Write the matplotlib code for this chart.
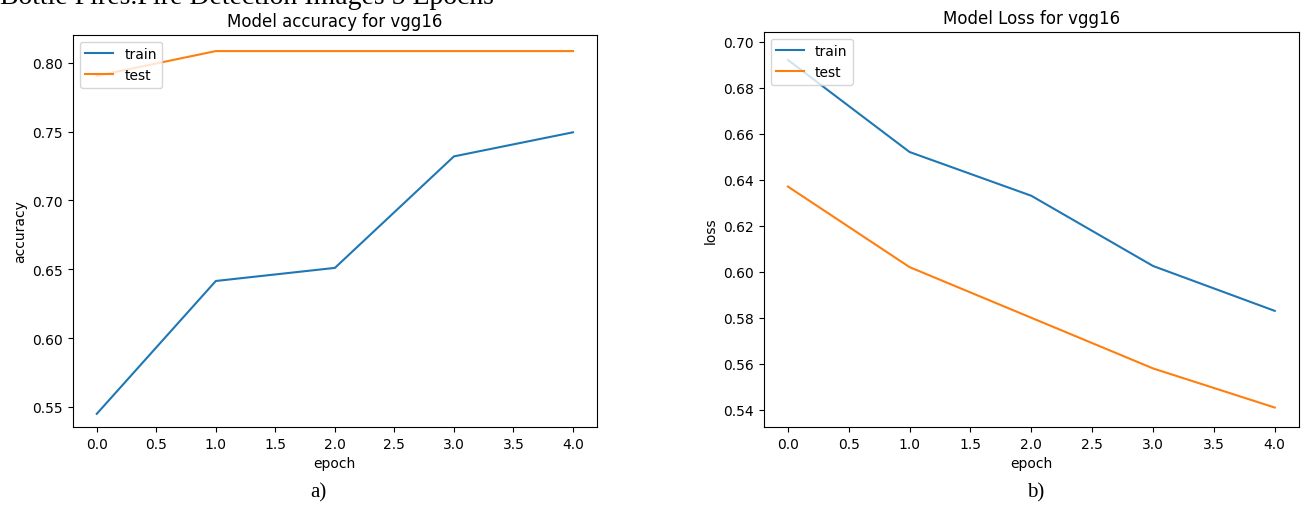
import numpy as np
import matplotlib.pyplot as plt

# data
epochs = [0, 1, 2, 3, 4]
acc_train = [0.545, 0.6415, 0.651, 0.732, 0.7495]
acc_test = [0.7905, 0.8085, 0.8085, 0.8085, 0.8085]
loss_train = [0.692, 0.652, 0.633, 0.6025, 0.583]
loss_test = [0.637, 0.602, 0.580, 0.558, 0.541]

fig = plt.figure(figsize=(13.03, 5.10), dpi=100)

# accuracy
ax1 = fig.add_axes([0.056, 0.161, 0.402, 0.769])
ax1.plot(epochs, acc_train, label='train')
ax1.plot(epochs, acc_test, label='test')
ax1.set_title('Model accuracy for vgg16')
ax1.set_ylabel('accuracy')
ax1.set_xlabel('epoch')
ax1.set_ylim(0.5355, 0.8204)
ax1.legend(loc='upper left')

# loss
ax2 = fig.add_axes([0.586, 0.161, 0.411, 0.775])
ax2.plot(epochs, loss_train, label='train')
ax2.plot(epochs, loss_test, label='test')
ax2.set_title('Model Loss for vgg16')
ax2.set_ylabel('loss')
ax2.set_xlabel('epoch')
ax2.set_ylim(0.5326, 0.7043)
ax2.legend(loc='upper left')

# captions
fig.text(318/1303, 1 - 493/510, 'a)', family='Liberation Serif', fontsize=15,
         ha='center', va='center')
fig.text(1036/1303, 1 - 493/510, 'b)', family='Liberation Serif', fontsize=15,
         ha='center', va='center')
# heading cut at the top of the image
fig.text(0.0, 1 - 4/510, 'Bottle Fires.Fire Detection Images 5 Epochs',
         family='Liberation Serif', fontsize=20, ha='left', va='baseline')

fig.savefig('out.png', dpi=100)
